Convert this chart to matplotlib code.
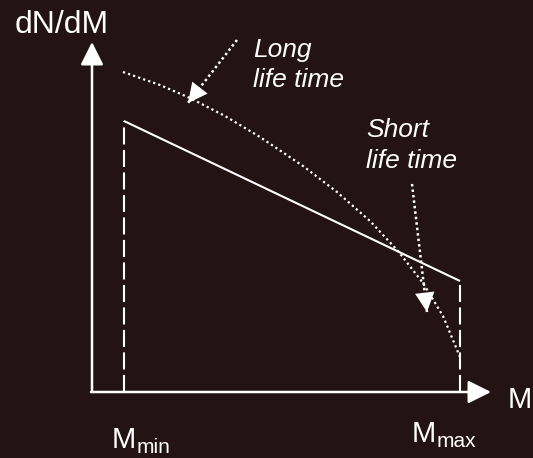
import matplotlib
matplotlib.use('Agg')
import matplotlib.pyplot as plt

plt.rcParams['font.family'] = ['Liberation Sans', 'DejaVu Sans']

bg = '#231315'
fg = 'white'

# schematic coordinates (x = mass, y = dN/dM), y grows downwards like the picture
m_min = 124
m_max = 460
axis_x0 = 92
axis_y0 = 392
axis_x_end = 491
axis_y_end = 42

# IMF power-law (straight line in the sketch)
imf_m = [m_min, m_max]
imf_n = [121, 281]

# long life time curve (dotted)
long_m = [123, 160, 190, 225, 260, 303, 337, 370, 398, 423, 443, 460]
long_n = [72, 85, 98, 116, 137, 166, 192, 221, 251, 283, 316, 357]

# pointer arrows: (start, tip)
long_arrow = [(237, 40), (188, 103)]
short_arrow = [(412, 184), (427, 312)]

fig = plt.figure(figsize=(5.33, 4.58), dpi=100)
fig.patch.set_facecolor(bg)
ax = fig.add_axes([0, 0, 1, 1])
ax.set_facecolor(bg)
ax.set_xlim(0, 533)
ax.set_ylim(458, 0)
ax.axis('off')

# axes with arrow heads
head = '-|>,head_length=1.0,head_width=0.5'
ax.annotate('', xy=(axis_x0, axis_y_end), xytext=(axis_x0, axis_y0),
            arrowprops=dict(arrowstyle=head, color=fg, lw=1.8,
                            mutation_scale=14, shrinkA=0, shrinkB=0))
ax.annotate('', xy=(axis_x_end, axis_y0), xytext=(axis_x0 - 1, axis_y0),
            arrowprops=dict(arrowstyle=head, color=fg, lw=1.8,
                            mutation_scale=14, shrinkA=0, shrinkB=0))

# dashed limits
ax.plot([m_min, m_min], [axis_y0, imf_n[0]], color=fg, lw=1.5,
        linestyle=(0, (8.2, 2.6)))
ax.plot([m_max, m_max], [axis_y0, imf_n[1]], color=fg, lw=1.5,
        linestyle=(0, (8.2, 2.6)))

# solid line
ax.plot(imf_m, imf_n, color=fg, lw=1.5, solid_capstyle='butt')

# dotted curve
ax.plot(long_m, long_n, color=fg, lw=1.6, linestyle=(0, (1, 1.4)))

# dotted pointer arrows
for (s, t) in [long_arrow, short_arrow]:
    ax.plot([s[0], t[0]], [s[1], t[1]], color=fg, lw=1.8, linestyle=(0, (1, 1.2)))
    ax.annotate('', xy=t, xytext=(t[0] - (t[0] - s[0]) * 0.25, t[1] - (t[1] - s[1]) * 0.25),
                arrowprops=dict(arrowstyle='-|>,head_length=1.0,head_width=0.5',
                                color=fg, lw=0, mutation_scale=14,
                                shrinkA=0, shrinkB=0))

# labels
ax.text(15, 33, 'dN/dM', color=fg, fontsize=23, va='baseline', ha='left')
ax.text(508, 408, 'M', color=fg, fontsize=21, va='baseline', ha='left')
ax.text(112, 448, 'M', color=fg, fontsize=21, va='baseline', ha='left')
ax.text(137, 453, 'min', color=fg, fontsize=15, va='baseline', ha='left')
ax.text(412, 442, 'M', color=fg, fontsize=21, va='baseline', ha='left')
ax.text(437, 447, 'max', color=fg, fontsize=15, va='baseline', ha='left')

ax.text(253, 57, 'Long', color=fg, fontsize=19, style='italic', va='baseline')
ax.text(253, 87, 'life time', color=fg, fontsize=19, style='italic', va='baseline')
ax.text(366, 137, 'Short', color=fg, fontsize=19, style='italic', va='baseline')
ax.text(366, 168, 'life time', color=fg, fontsize=19, style='italic', va='baseline')

fig.savefig('out.png', dpi=100, facecolor=bg)
